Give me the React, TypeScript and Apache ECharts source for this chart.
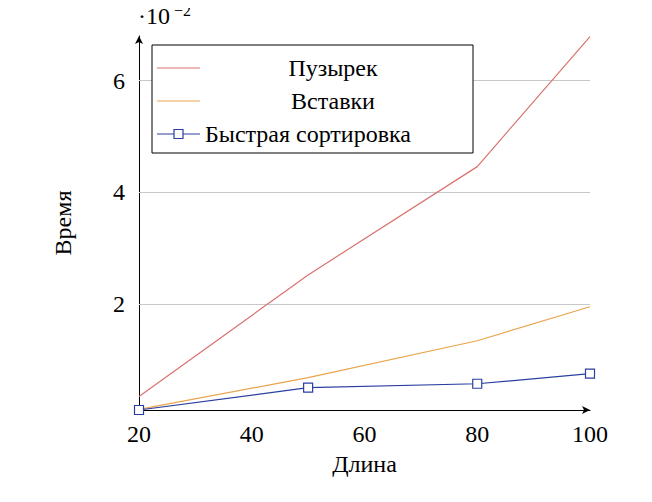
import React, { useEffect, useRef } from 'react';
import * as echarts from 'echarts';

const lengths = [20, 50, 80, 100];
const bubble = [0.34, 2.52, 4.46, 6.79];
const insertion = [0.11, 0.68, 1.34, 1.95];
const quick = [0.1, 0.5, 0.57, 0.75];
const yTicks = [2, 4, 6];
const names = ['Пузырек', 'Вставки', 'Быстрая сортировка'];
const colors = ['#d9736e', '#e9a54d', '#2b3fa3'];

const font = 'Liberation Serif';

const App: React.FC = () => {
  const chartRef = useRef<HTMLDivElement>(null);

  useEffect(() => {
    if (!chartRef.current) return;
    const chart = echarts.init(chartRef.current, null, { renderer: 'svg' });
    const series: any[] = [bubble, insertion, quick].map((vals, i) => ({
      name: names[i],
      type: 'line' as const,
      z: 3,
      data: lengths.map((x, j) => [x, vals[j]]),
      lineStyle: { color: colors[i], width: 1.2 },
      itemStyle: { color: '#fff', borderColor: colors[i], borderWidth: 1.2 },
      symbol: i === 2 ? 'rect' : 'none',
      symbolSize: 9,
      showSymbol: i === 2,
    }));
    series[0].markLine = {
      silent: true, symbol: 'none', label: { show: false }, z: 1,
      lineStyle: { color: '#c8c8c8', type: 'solid', width: 1 },
      data: yTicks.map((v) => ({ yAxis: v })),
    };
    const legendY = [60, 93, 126];
    chart.setOption({
      animation: false,
      textStyle: { fontFamily: font },
      grid: { left: 131, right: 54, top: 28, bottom: 84 },
      xAxis: {
        type: 'value', min: 20, max: 100, interval: 20,
        name: 'Длина', nameLocation: 'middle', nameGap: 42,
        nameTextStyle: { fontSize: 24, color: '#000', fontFamily: font },
        axisLine: { lineStyle: { color: '#000' }, symbol: ['none', 'arrow'], symbolSize: [6, 8] },
        axisTick: { show: false },
        axisLabel: { fontSize: 24, color: '#000', fontFamily: font, margin: 12 },
        splitLine: { show: false },
      },
      yAxis: {
        type: 'value', min: 0.1, max: 6.8,
        name: 'Время', nameLocation: 'middle', nameGap: 64,
        nameTextStyle: { fontSize: 24, color: '#000', fontFamily: font },
        axisLine: { show: true, lineStyle: { color: '#000' }, symbol: ['none', 'arrow'], symbolSize: [6, 8] },
        axisTick: { show: false },
        axisLabel: {
          fontSize: 24, color: '#000', fontFamily: font, margin: 14,
          customValues: yTicks,
        },
        splitLine: { show: false },
      },
      series,
      graphic: [
        { type: 'text', left: 130, top: -4, style: { text: '·10', fontSize: 24, fontFamily: font, fill: '#000' } },
        { type: 'text', left: 166, top: -6, style: { text: '−2', fontSize: 16, fontFamily: font, fill: '#000' } },
        { type: 'rect', z: 10, shape: { x: 144, y: 37, width: 321, height: 108 }, style: { fill: '#fff', stroke: '#000', lineWidth: 1 } },
        ...names.flatMap((n, i) => [
          { type: 'line', z: 11, shape: { x1: 149, y1: legendY[i], x2: 192, y2: legendY[i] }, style: { stroke: colors[i], lineWidth: 1.2 } },
          ...(i === 2 ? [{ type: 'rect', z: 12, shape: { x: 166, y: legendY[i] - 4.5, width: 9, height: 9 }, style: { fill: '#fff', stroke: colors[i], lineWidth: 1.2 } }] : []),
          {
            type: 'text', z: 12,
            x: i === 2 ? 197 : 325, y: legendY[i],
            style: { text: n, fontSize: 24, fontFamily: font, fill: '#000', align: i === 2 ? 'left' : 'center', verticalAlign: 'middle' },
          },
        ]),
      ],
    });
    return () => chart.dispose();
  }, []);

  return <div ref={chartRef} style={{ width: 636, height: 486 }} />;
};

export default App;
